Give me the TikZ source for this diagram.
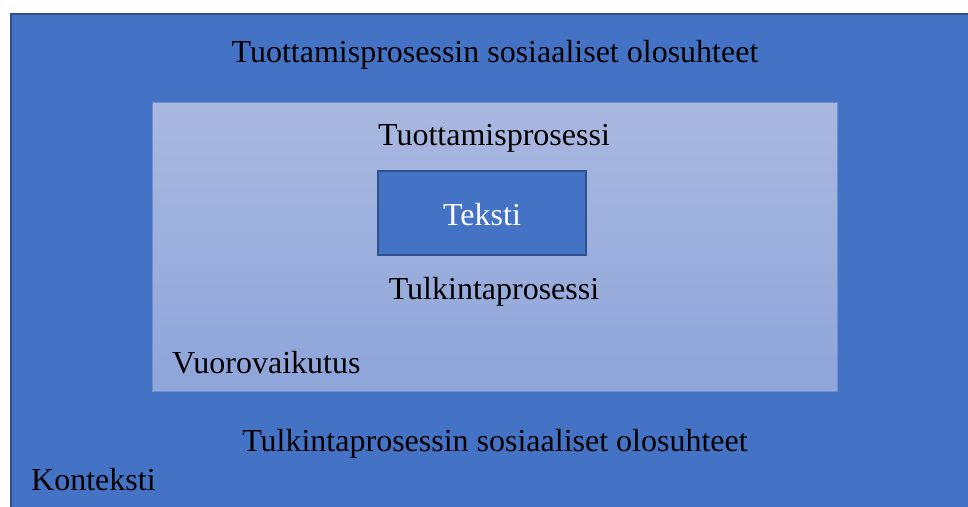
\documentclass[tikz,border=0pt]{standalone}
\usepackage{fontspec}
\setmainfont{Liberation Serif}
\definecolor{outerblue}{HTML}{4472C4}
\definecolor{darkblue}{HTML}{2F528F}
\definecolor{innertop}{HTML}{AAB8E0}
\definecolor{innerbot}{HTML}{8EA5DA}
\begin{document}
\begin{tikzpicture}[x=1pt,y=1pt,
  lbl/.style={font=\fontsize{32}{36}\selectfont, text=black, inner sep=0pt, anchor=base},
  wlbl/.style={lbl, text=white}]
\useasboundingbox (0,0) rectangle (968,506);
\fill[white] (0,0) rectangle (968,506);
% outer context box
\filldraw[fill=outerblue, draw=darkblue, line width=2pt] (11,-5) rectangle (975,492);
% inner interaction box
\shade[top color=innertop, bottom color=innerbot] (152,115) rectangle (837,403);
\draw[outerblue!60!innertop, line width=1pt] (152,115) rectangle (837,403);
% text box
\node[draw=darkblue, fill=outerblue, line width=2pt, minimum width=208pt, minimum height=84pt, inner sep=0pt] (teksti) at (482,293) {};
\node[wlbl] at (482,280) {Teksti};
\node[lbl] (tsos) at (495,443) {Tuottamisprosessin sosiaaliset olosuhteet};
\node[lbl] (tp) at (494,360) {Tuottamisprosessi};
\node[lbl] (tk) at (494,206) {Tulkintaprosessi};
\node[lbl, anchor=base west] (vv) at (172,132) {Vuorovaikutus};
\node[lbl] (ksos) at (495,55) {Tulkintaprosessin sosiaaliset olosuhteet};
\node[lbl, anchor=base west] (kon) at (31,16) {Konteksti};
\end{tikzpicture}
\end{document}
